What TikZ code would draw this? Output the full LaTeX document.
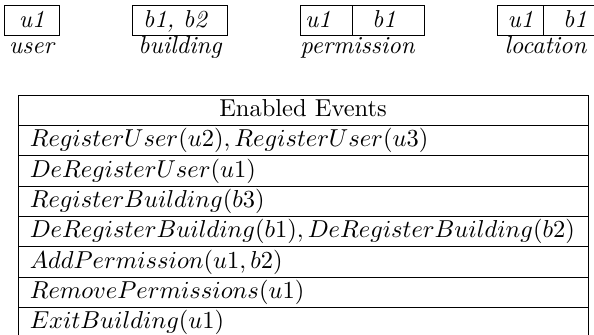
\documentclass[tikz,border=0pt]{standalone}
\def\pxu{0.4085pt}
\begin{document}
\begin{tikzpicture}[x=0.4085pt, y=-0.4085pt,
  cell/.style={draw, inner sep=0pt, minimum height=30*\pxu},
  celltxt/.style={anchor=base, inner sep=0pt, font=\itshape},
  lbl/.style={anchor=base, inner sep=0pt, font=\itshape},
  hdr/.style={draw, minimum width=570*\pxu, minimum height=30.37*\pxu, inner xsep=0pt, inner ysep=0pt, text height=8.5pt, text depth=3.5pt},
  evrow/.style={draw, inner xsep=4.8pt, inner ysep=0pt, text width=570*\pxu-9.6pt, align=left, minimum height=30.37*\pxu, text height=8.5pt, text depth=3.5pt}]
\useasboundingbox (0,0) rectangle (594,334);
\clip (0,0) rectangle (594,334);
% top boxes
\node[cell, minimum width=55*\pxu] (cuser) at (32,20) {};
\node[cell, minimum width=95*\pxu] (cbld) at (180,20) {};
\node[cell, minimum width=52.7*\pxu] (cpu) at (326.35,20) {};
\node[cell, minimum width=71.3*\pxu] (cpb) at (388.35,20) {};
\node[cell, minimum width=46*\pxu] (clu) at (520.3,20) {};
\node[cell, minimum width=71.4*\pxu] (clb) at (579,20) {};
\node[celltxt] (tuser) at (31.7,27) {u1};
\node[celltxt] (tbld) at (175,27) {b1, b2};
\node[celltxt] (tpu) at (318,27) {u1};
\node[celltxt] (tpb) at (384,27) {b1};
\node[celltxt] (tlu) at (520.5,27) {u1};
\node[celltxt] (tlb) at (575,27) {b1};
\node[lbl] (luser) at (31.5,53) {user};
\node[lbl] (lbld) at (180,53) {building};
\node[lbl] (lperm) at (357.5,53) {permission};
\node[lbl] (lloc) at (545.5,53) {location};
% table
\node[hdr] (h) at (303,110.2) {Enabled Events};
\node[evrow] (r1) at (303,140.6) {$RegisterUser(u2), RegisterUser(u3)$};
\node[evrow] (r2) at (303,170.9) {$DeRegisterUser(u1)$};
\node[evrow] (r3) at (303,201.3) {$RegisterBuilding(b3)$};
\node[evrow] (r4) at (303,231.7) {$DeRegisterBuilding(b1), DeRegisterBuilding(b2)$};
\node[evrow] (r5) at (303,262.0) {$AddPermission(u1, b2)$};
\node[evrow] (r6) at (303,292.4) {$RemovePermissions(u1)$};
\node[evrow] (r7) at (303,322.8) {$ExitBuilding(u1)$};
\end{tikzpicture}
\end{document}
